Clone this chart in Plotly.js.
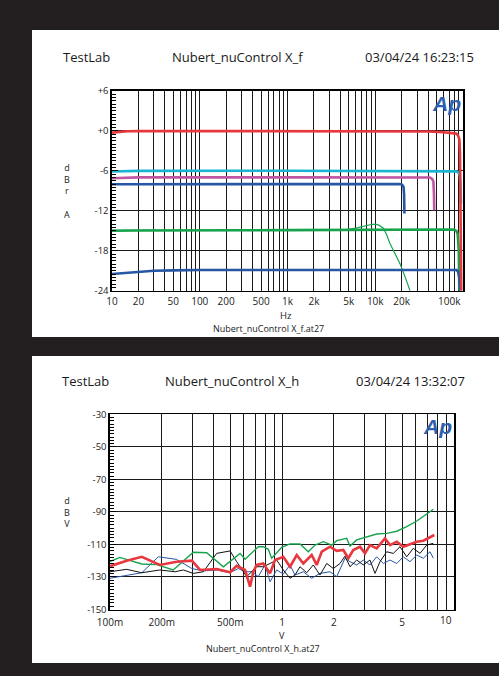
<!DOCTYPE html>
<html>
<head>
<meta charset="utf-8">
<script src="https://cdn.plot.ly/plotly-3.0.1.min.js"></script>
<style>html,body{margin:0;padding:0;background:#231f20;}#chart{width:499px;height:676px;}</style>
</head>
<body>
<div id="chart"></div>
<script>
// ---------- top chart data: frequency response (Hz, dBrA) ----------
const topRedF   = [10, 12, 15, 20, 50, 1000, 20000, 40000, 60000, 75000, 84000, 88000, 91000, 92500, 94000, 95500];
const topRedDb  = [-0.25, -0.12, -0.05, 0, 0, 0, 0, -0.08, -0.2, -0.3, -0.4, -0.7, -1.3, -3.5, -12, -24];
const topCyanF  = [10, 15, 20, 1000, 40000, 70000, 84000, 89000, 92000, 93500, 94800];
const topCyanDb = [-6.1, -6.02, -6.0, -5.97, -5.97, -6.0, -6.08, -6.25, -6.7, -8, -10.9];
const topMagF   = [10, 15, 20, 1000, 30000, 42000, 44500, 46000, 46700, 47000];
const topMagDb  = [-7.1, -7.0, -6.97, -6.97, -6.97, -7.0, -7.2, -7.6, -9.5, -11.9];
const topBlueF  = [10, 1000, 19000, 20300, 21000, 21300, 21500];
const topBlueDb = [-8.0, -7.97, -7.97, -8.1, -8.4, -9.5, -12.4];
const topGreenF  = [10, 20, 1000, 10000, 60000, 79000, 84000, 87000, 89500, 90800];
const topGreenDb = [-15.0, -14.95, -14.9, -14.9, -14.85, -14.8, -15.0, -15.5, -18, -24];
const topGreen2F  = [10, 1000, 4500, 6000, 7500, 9000, 10000, 11000, 12400, 13500, 14700, 17000, 19100, 22000, 24900];
const topGreen2Db = [-14.95, -14.9, -14.85, -14.6, -14.25, -14.05, -14.0, -14.15, -14.6, -15.6, -16.9, -18.5, -19.9, -22, -24];
const topBlue2F  = [10, 15, 20, 30, 50, 100, 1000, 10000, 50000, 84700, 88000, 90800, 92500];
const topBlue2Db = [-21.5, -21.3, -21.15, -21.0, -20.95, -20.9, -20.9, -20.85, -20.8, -20.9, -21.2, -22, -24];

const topXTickVals = [10, 20, 50, 100, 200, 500, 1000, 2000, 5000, 10000, 20000];
const topXTickText = ['10', '20', '50', '100', '200', '500', '1k', '2k', '5k', '10k', '20k'];
const topYTickVals = [6, 0, -6, -12, -18, -24];
const topYTickText = ['+6', '+0', '-6', '-12', '-18', '-24'];

// ---------- bottom chart data: level sweep (V, dBV) ----------
const botGreenV  = [0.100, 0.114, 0.153, 0.187, 0.233, 0.305, 0.365, 0.456, 0.570, 0.610, 0.728, 0.778, 0.832, 0.871, 0.996, 1.113, 1.273, 1.422, 1.556, 1.739, 1.945, 2.080, 2.378, 2.485, 2.718, 3.107, 3.553, 4.062, 4.645, 5.309, 6.071, 6.940, 7.582];
const botGreenDb = [-120.5, -118, -122, -122.4, -125.7, -114.8, -115.1, -123.7, -115.5, -119.1, -111.4, -111.4, -113, -118.5, -111.8, -109.7, -109.7, -114.5, -110.4, -108.3, -110.4, -107.7, -106.3, -111, -107.2, -105.2, -103.6, -103.2, -101.9, -99.1, -95.6, -91.3, -88.4];
const botRedV  = [0.100, 0.125, 0.153, 0.195, 0.244, 0.299, 0.334, 0.417, 0.499, 0.545, 0.610, 0.652, 0.681, 0.713, 0.778, 0.852, 0.911, 1.018, 1.113, 1.218, 1.330, 1.488, 1.591, 1.702, 1.902, 2.080, 2.272, 2.430, 2.597, 2.841, 3.037, 3.247, 3.553, 3.970, 4.246, 4.645, 5.073, 5.549, 6.071, 6.632, 7.254, 7.683];
const botRedDb = [-123.4, -120, -117.6, -122.6, -120.6, -120, -125.7, -125.1, -127.1, -123.1, -125.7, -136, -126.8, -122.6, -121.7, -127.8, -119.6, -117.6, -123.7, -116.5, -121.7, -116.5, -122.6, -114.5, -111.4, -113.9, -113.4, -118.5, -113.4, -111.4, -115.5, -110.4, -112.4, -106.3, -110.4, -108.3, -111.4, -109.7, -108.3, -107.7, -105.6, -104.2];
const botBlackV  = [0.100, 0.125, 0.153, 0.195, 0.239, 0.267, 0.305, 0.349, 0.417, 0.499, 0.545, 0.623, 0.713, 0.778, 0.852, 0.932, 1.018, 1.113, 1.190, 1.273, 1.392, 1.521, 1.663, 1.820, 1.987, 2.174, 2.324, 2.485, 2.718, 2.969, 3.247, 3.473, 3.713, 4.062, 4.437, 4.853, 5.309, 5.800, 6.346, 6.940, 7.582];
const botBlackDb = [-126.8, -125.3, -127.4, -125.7, -126.8, -125.7, -127.8, -126.8, -115.5, -114, -120.6, -129.8, -123.7, -123.7, -121.7, -119.6, -125.7, -130.8, -128.8, -123.7, -127.4, -122.6, -128.8, -121.7, -124.8, -121.7, -117.2, -123.7, -119.6, -122.6, -119.6, -127.8, -120.6, -114.5, -115.5, -111.4, -117.6, -112.4, -115.5, -110.4, -109.3];
const botBlueV  = [0.100, 0.125, 0.153, 0.191, 0.244, 0.299, 0.349, 0.417, 0.499, 0.557, 0.610, 0.667, 0.728, 0.796, 0.852, 0.932, 1.018, 1.113, 1.190, 1.330, 1.488, 1.663, 1.902, 2.080, 2.324, 2.485, 2.718, 2.969, 3.247, 3.553, 3.882, 4.246, 4.645, 5.073, 5.549, 6.071, 6.632, 7.254, 7.582];
const botBlueDb = [-130.8, -128.8, -127.4, -117.6, -119.2, -124.8, -126.3, -125.7, -127.4, -124.8, -126.8, -126.8, -129.8, -122.6, -132.9, -125.7, -128.2, -122.6, -128.8, -126.8, -130.8, -127.8, -126.8, -129.8, -118.5, -120.6, -122.6, -119.6, -122.6, -117.6, -121.7, -119.6, -121.7, -117.6, -120.6, -116.5, -118.5, -114.5, -118.5];

const botXTickVals = [0.1, 0.2, 0.5, 1, 2, 5];
const botXTickText = ['100m', '200m', '500m', '1', '2', '5'];
const botYTickVals = [-30, -50, -70, -90, -110, -130, -150];
const botYTickText = ['-30', '-50', '-70', '-90', '-110', '-130', '-150'];

// ---------- layout helpers ----------
const W = 499, H = 676;
const px = x => x / W;
const py = y => 1 - y / H;
function logGrid(d0, d1) { // grid positions 1..9 per decade
  const a = [];
  for (let d = d0; d < d1; d++) for (let k = 1; k <= 9; k++) a.push(k * Math.pow(10, d));
  a.push(Math.pow(10, d1));
  return a;
}

const RED = '#e8383f', CYAN = '#18b4d2', MAG = '#c056a2', BLUE = '#2656a4', GREEN = '#17a24c';
const GRID = '#1a1a1a';
const xTickFont = {family: 'Open Sans', size: 10, color: '#222'};
const yTickFont = {family: 'Open Sans', size: 9.5, color: '#222'};

function ln(x, y, color, width, xa, ya) {
  return {x: x, y: y, type: 'scatter', mode: 'lines', xaxis: xa, yaxis: ya,
          line: {color: color, width: width}, hoverinfo: 'skip', showlegend: false};
}

const data = [
  ln(topGreen2F, topGreen2Db, GREEN, 1.2, 'x', 'y'),
  ln(topGreenF, topGreenDb, GREEN, 2.6, 'x', 'y'),
  ln(topBlue2F, topBlue2Db, BLUE, 2.6, 'x', 'y'),
  ln(topBlueF, topBlueDb, BLUE, 2.6, 'x', 'y'),
  ln(topMagF, topMagDb, MAG, 2.6, 'x', 'y'),
  ln(topCyanF, topCyanDb, CYAN, 2.6, 'x', 'y'),
  ln(topRedF, topRedDb, RED, 2.6, 'x', 'y'),
  ln(botBlueV, botBlueDb, BLUE, 1, 'x2', 'y2'),
  ln(botBlackV, botBlackDb, '#111', 1, 'x2', 'y2'),
  ln(botGreenV, botGreenDb, GREEN, 1.4, 'x2', 'y2'),
  ln(botRedV, botRedDb, RED, 2.6, 'x2', 'y2')
];

function xAxis(domain, d0, d1, vals, text, anchor, standoff) {
  return {
    type: 'log', domain: domain, range: [d0, d1], anchor: anchor,
    tickmode: 'array', tickvals: vals, ticktext: text, ticks: '',
    ticklabelstandoff: standoff,
    showgrid: true, gridcolor: GRID, gridwidth: 1,
    minor: {tickmode: 'array', tickvals: logGrid(d0, d1), showgrid: true, gridcolor: GRID, gridwidth: 1, ticks: ''},
    showline: true, mirror: true, linecolor: '#000', linewidth: 1.6,
    zeroline: false, tickfont: xTickFont, fixedrange: true
  };
}
function yAxis(domain, r, vals, text, minorStep, anchor) {
  return {
    domain: domain, range: r, anchor: anchor,
    tickmode: 'array', tickvals: vals, ticktext: text,
    ticks: 'inside', ticklen: 6, tickcolor: '#000',
    minor: {tickmode: 'linear', tick0: 0, dtick: minorStep, ticks: 'inside', ticklen: 4, tickcolor: '#000', tickwidth: 1, showgrid: false},
    showgrid: true, gridcolor: GRID, gridwidth: 1,
    showline: true, mirror: true, linecolor: '#000', linewidth: 1.6,
    zeroline: false, tickfont: yTickFont, fixedrange: true
  };
}

function txt(text, x, y, size, xanchor, extra) {
  return Object.assign({text: text, x: px(x), y: py(y), xref: 'paper', yref: 'paper',
    xanchor: xanchor || 'center', yanchor: 'middle', showarrow: false,
    font: {family: 'Open Sans', size: size, color: '#1a1a1a'}}, extra || {});
}

const apFont = {family: 'Liberation Sans', size: 21, color: '#2e5fae', weight: 'bold', style: 'italic'};

const annotations = [
  txt('TestLab', 61, 57, 13, 'left'),
  txt('Nubert_nuControl X_f', 237, 57, 13),
  txt('03/04/24 16:23:15', 419, 57, 13),
  txt('d<br>B<br>r<br><br>A', 67, 190.5, 9),
  txt('Hz', 286, 315, 9.5),
  txt('Nubert_nuControl X_f.at27', 268, 328, 9),
  txt('100k', 463, 301, 10, 'right'),
  txt('Ap', 446, 103, 21, 'center', {font: apFont}),

  txt('TestLab', 60, 381, 13, 'left'),
  txt('Nubert_nuControl X_h', 232, 381, 13),
  txt('03/04/24 13:32:07', 410, 381, 13),
  txt('d<br>B<br>V', 67, 512, 9),
  txt('V', 282, 635.5, 9),
  txt('Nubert_nuControl X_h.at27', 263, 648.5, 9),
  txt('10', 454, 620, 10, 'right'),
  txt('Ap', 437, 427, 21, 'center', {font: apFont})
];

const shapes = [
  {type: 'rect', xref: 'paper', yref: 'paper', x0: px(32), x1: px(499), y0: py(337), y1: py(30), fillcolor: '#fff', line: {width: 0}, layer: 'below'},
  {type: 'rect', xref: 'paper', yref: 'paper', x0: px(32), x1: px(499), y0: py(663), y1: py(356), fillcolor: '#fff', line: {width: 0}, layer: 'below'}
];

const layout = {
  width: W, height: H, margin: {l: 0, r: 0, t: 0, b: 0},
  paper_bgcolor: '#231f20', plot_bgcolor: '#fff', showlegend: false,
  xaxis: xAxis([px(112), px(463)], 1, 5, topXTickVals, topXTickText, 'y', 1),
  yaxis: yAxis([py(290.7), py(91)], [-24, 6], topYTickVals, topYTickText, 0.5, 'x'),
  xaxis2: xAxis([px(110), px(454)], -1, 1, botXTickVals, botXTickText, 'y2', 3),
  yaxis2: yAxis([py(609.5), py(414.3)], [-150, -30], botYTickVals, botYTickText, 2, 'x2'),
  annotations: annotations, shapes: shapes
};

Plotly.newPlot('chart', data, layout, {staticPlot: true, displayModeBar: false});
</script>
</body>
</html>
